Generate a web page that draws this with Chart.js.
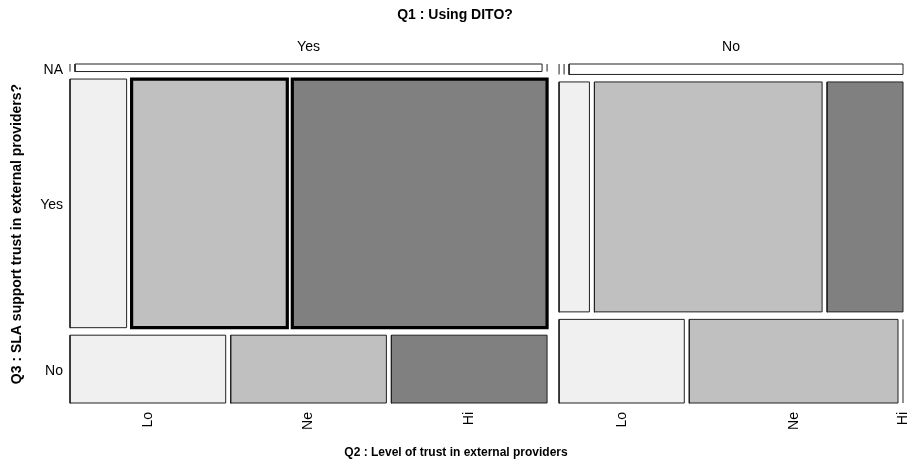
<!DOCTYPE html>
<html>
<head>
<meta charset="utf-8">
<script src="https://cdn.jsdelivr.net/npm/chart.js@4.4.1/dist/chart.umd.min.js"></script>
<style>
  body { margin: 0; background: #fff; }
  canvas { display: block; }
</style>
</head>
<body>
<canvas id="mosaic" width="909" height="463"></canvas>
<script>
// Q1 splits the columns, Q3 the rows inside a column, Q2 the cells inside a row
const q1Levels = ['Yes', 'No'];
const q3Levels = ['NA', 'Yes', 'No'];
const q2Levels = ['Lo', 'Ne', 'Hi'];

// counts per Q2 level (Lo, Ne, Hi)
const ditoYesSlaNA = [0, 1, 0];
const ditoYesSlaYes = [4, 11, 18];
const ditoYesSlaNo = [3, 3, 3];
const ditoNoSlaNA = [0, 0, 1];
const ditoNoSlaYes = [2, 15, 5];
const ditoNoSlaNo = [3, 5, 0];

const counts = [
    [ditoYesSlaNA, ditoYesSlaYes, ditoYesSlaNo],
    [ditoNoSlaNA, ditoNoSlaYes, ditoNoSlaNo]
];

// cells with a heavy outline: [q1, q3, q2]
const highlighted = [[0, 1, 1], [0, 1, 2]];

const q2Fills = ['#f0f0f0', '#c0c0c0', '#808080'];
const naFill = '#ffffff';

// spacing between pieces, in axis units
const gapQ1 = 12 / 833;
const gapQ3 = 7.5 / 339;
const gapQ2 = 5 / 833;

const FONT = "'Liberation Sans', Arial, sans-serif";

const sum = arr => arr.reduce((a, b) => a + b, 0);

// split [start, end] into pieces proportional to values, with a gap between them
function split(start, end, values, gap) {
    const total = sum(values);
    const avail = end - start - gap * (values.length - 1);
    const out = [];
    let pos = start;
    values.forEach(v => {
        const size = total ? avail * v / total : 0;
        out.push([pos, pos + size]);
        pos += size + gap;
    });
    return out;
}

// build the mosaic cells
const cells = [];
const colTotals = counts.map(col => sum(col.map(sum)));
const cols = split(0, 1, colTotals, gapQ1);
cols.forEach((cx, i) => {
    const rowTotals = counts[i].map(sum);
    const rows = split(0, 1, rowTotals, gapQ3);
    rows.forEach((ry, j) => {
        const y0 = 1 - ry[1], y1 = 1 - ry[0];
        const parts = split(cx[0], cx[1], counts[i][j], gapQ2);
        parts.forEach((px, k) => {
            cells.push({ i, j, k, x0: px[0], x1: px[1], y0, y1, n: counts[i][j][k] });
        });
    });
});

const isHighlighted = c => highlighted.some(h => h[0] === c.i && h[1] === c.j && h[2] === c.k);

const datasets = cells.map(c => {
    const heavy = isHighlighted(c);
    if (c.n === 0) {
        // empty cell: collapsed to a line
        return {
            data: [{ x: c.x0, y: c.y0 }, { x: c.x0, y: c.y1 }],
            borderColor: '#222',
            borderWidth: 1,
            pointRadius: 0,
            fill: false,
            clip: false,
            order: 2
        };
    }
    return {
        data: [
            { x: c.x0, y: c.y0 }, { x: c.x1, y: c.y0 },
            { x: c.x1, y: c.y1 }, { x: c.x0, y: c.y1 },
            { x: c.x0, y: c.y0 }
        ],
        borderColor: heavy ? '#000' : '#222',
        borderWidth: heavy ? 3.2 : 1,
        borderJoinStyle: 'miter',
        borderCapStyle: 'square',
        backgroundColor: c.j === 0 ? naFill : q2Fills[c.k],
        fill: 'shape',
        pointRadius: 0,
        tension: 0,
        clip: false,
        order: heavy ? 0 : 1
    };
});

// category labels and titles
const labelsPlugin = {
    id: 'mosaicLabels',
    afterDraw(chart) {
        const { ctx, scales: { x, y } } = chart;
        ctx.save();
        ctx.fillStyle = '#000';

        ctx.font = `bold 14px ${FONT}`;
        ctx.textAlign = 'center';
        ctx.textBaseline = 'middle';
        ctx.fillText('Q1 : Using DITO?', 455, 15);

        // Q1 levels above columns
        ctx.font = `14px ${FONT}`;
        cols.forEach((cx, i) => {
            ctx.fillText(q1Levels[i], x.getPixelForValue((cx[0] + cx[1]) / 2), 47);
        });

        // Q3 levels from the first column
        ctx.textAlign = 'right';
        const rows0 = split(0, 1, counts[0].map(sum), gapQ3);
        rows0.forEach((ry, j) => {
            ctx.fillText(q3Levels[j], 63, y.getPixelForValue(1 - (ry[0] + ry[1]) / 2) + 2);
        });

        // Q2 levels under the last row of each column
        cells.filter(c => c.j === q3Levels.length - 1).forEach(c => {
            ctx.save();
            ctx.translate(x.getPixelForValue((c.x0 + c.x1) / 2), 412);
            ctx.rotate(-Math.PI / 2);
            ctx.textAlign = 'right';
            ctx.fillText(q2Levels[c.k], 0, 0);
            ctx.restore();
        });

        ctx.font = `bold 12px ${FONT}`;
        ctx.textAlign = 'center';
        ctx.fillText('Q2 : Level of trust in external providers', 456, 453);

        ctx.font = `bold 14px ${FONT}`;
        ctx.save();
        ctx.translate(17, 234);
        ctx.rotate(-Math.PI / 2);
        ctx.fillText('Q3 : SLA support trust in external providers?', 0, 0);
        ctx.restore();

        ctx.restore();
    }
};

new Chart(document.getElementById('mosaic'), {
    type: 'line',
    data: { datasets },
    options: {
        responsive: false,
        animation: false,
        layout: { padding: { left: 70, right: 6, top: 64, bottom: 60 } },
        scales: {
            x: { type: 'linear', min: 0, max: 1, display: false },
            y: { type: 'linear', min: 0, max: 1, display: false }
        },
        plugins: {
            legend: { display: false },
            tooltip: { enabled: false }
        }
    },
    plugins: [labelsPlugin]
});
</script>
</body>
</html>
